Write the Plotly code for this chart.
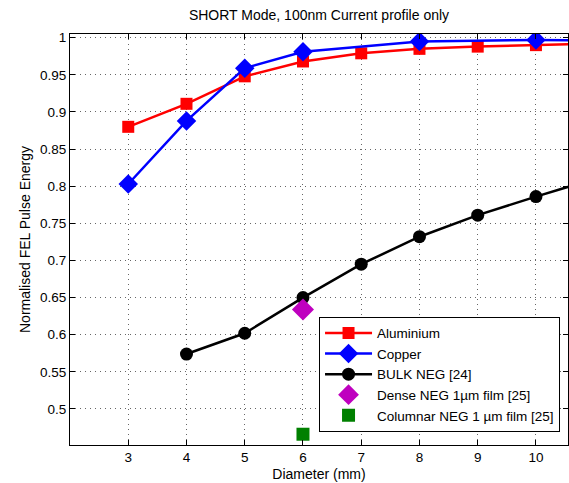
import plotly.graph_objects as go

al_x = [3, 4, 5, 6, 7, 8, 9, 10, 11]
al_y = [0.880, 0.911, 0.948, 0.968, 0.979, 0.985, 0.988, 0.990, 0.992]
cu_x = [3, 4, 5, 6, 8, 10, 12]
cu_y = [0.803, 0.888, 0.959, 0.981, 0.995, 0.997, 0.996]
neg_x = [4, 5, 6, 7, 8, 9, 10, 11]
neg_y = [0.574, 0.602, 0.650, 0.695, 0.732, 0.761, 0.786, 0.810]
dense_x = [6]
dense_y = [0.634]
col_x = [6]
col_y = [0.466]

x_ticks = [3, 4, 5, 6, 7, 8, 9, 10]
y_ticks = [0.5, 0.55, 0.6, 0.65, 0.7, 0.75, 0.8, 0.85, 0.9, 0.95, 1]
y_labels = ["0.5", "0.55", "0.6", "0.65", "0.7", "0.75", "0.8", "0.85", "0.9", "0.95", "1"]

fig = go.Figure()
fig.add_trace(go.Scatter(x=al_x, y=al_y, mode="lines+markers", name="Aluminium",
                         line=dict(color="#ff0000", width=2.5),
                         marker=dict(symbol="square", size=12, color="#ff0000")))
fig.add_trace(go.Scatter(x=cu_x, y=cu_y, mode="lines+markers", name="Copper",
                         line=dict(color="#0000ff", width=2.5),
                         marker=dict(symbol="diamond", size=15, color="#0000ff")))
fig.add_trace(go.Scatter(x=neg_x, y=neg_y, mode="lines+markers", name="BULK NEG [24]",
                         line=dict(color="#000000", width=2.5),
                         marker=dict(symbol="circle", size=13, color="#000000")))
fig.add_trace(go.Scatter(x=dense_x, y=dense_y, mode="markers", name="Dense NEG 1µm film [25]",
                         marker=dict(symbol="diamond", size=17, color="#bf00bf")))
fig.add_trace(go.Scatter(x=col_x, y=col_y, mode="markers", name="Columnar NEG 1 µm film [25]",
                         marker=dict(symbol="square", size=13, color="#008000")))

axis_common = dict(showline=True, linecolor="black", linewidth=1, mirror="ticks",
                   ticks="inside", ticklen=5, tickcolor="black",
                   showgrid=True, gridcolor="#666666", griddash="1px,4px", gridwidth=1,
                   zeroline=False, tickfont=dict(size=13.5, color="black"))

fig.update_xaxes(range=[2, 10.55], tickvals=x_ticks,
                 title=dict(text="Diameter (mm)", font=dict(size=14, color="black"), standoff=4),
                 **axis_common)
fig.update_yaxes(range=[0.4515, 1.005], tickvals=y_ticks, ticktext=y_labels,
                 title=dict(text="Normalised FEL Pulse Energy", font=dict(size=14, color="black"), standoff=6),
                 **axis_common)

fig.update_layout(
    width=569, height=483,
    margin=dict(l=70, r=1, t=34, b=38),
    paper_bgcolor="white", plot_bgcolor="white",
    font=dict(family="Liberation Sans, Arial, sans-serif", size=14, color="black"),
    title=dict(text="SHORT Mode, 100nm Current profile only", x=0.5, xref="paper", xanchor="center",
               y=0.968, yanchor="middle", font=dict(size=14, color="black")),
    legend=dict(x=0.984, xanchor="right", y=0.312, yanchor="top",
                bordercolor="black", borderwidth=1, bgcolor="white",
                font=dict(size=13.5, color="black"), itemwidth=47,
                tracegroupgap=0),
    showlegend=True,
)

fig.write_html("out.html", config={"displayModeBar": False},
               post_script="document.body.style.margin='0';")
